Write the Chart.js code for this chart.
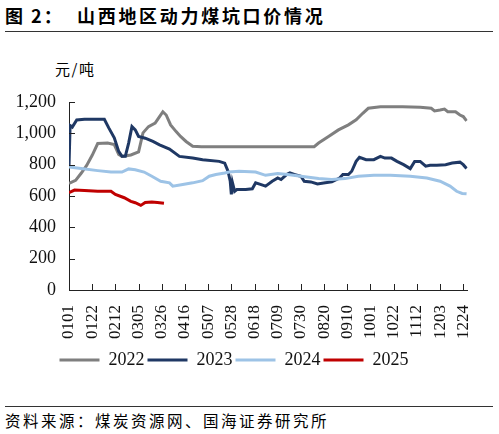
<!DOCTYPE html>
<html>
<head>
<meta charset="utf-8">
<script src="https://cdn.jsdelivr.net/npm/chart.js@4/dist/chart.umd.min.js"></script>
<style>
  html, body { margin: 0; padding: 0; background: #fff; }
  body { width: 499px; height: 434px; position: relative; overflow: hidden; }
  .cn { font-family: "Noto Sans CJK SC", sans-serif; color: #000; position: absolute; white-space: nowrap; }
  #title1 { left: 5px; top: 3px; font-size: 18px; font-weight: bold; line-height: 24px; letter-spacing: 2px; }
  #title2 { left: 77px; top: 3px; font-size: 18px; font-weight: bold; line-height: 24px; letter-spacing: 2.7px; }
  #unit { left: 55px; top: 59px; font-size: 15px; line-height: 20px; letter-spacing: 1.5px; }
  #source { left: 5px; top: 410px; font-size: 15.5px; line-height: 20px; letter-spacing: 2.5px; }
  .rule { position: absolute; left: 5px; width: 488px; height: 0; border-top: 1.3px solid #333; }
  #chartBox { position: absolute; left: 0; top: 40px; width: 499px; height: 364px; }
</style>
</head>
<body>
<div class="cn" id="title1">图 2：</div>
<div class="cn" id="title2">山西地区动力煤坑口价情况</div>
<div class="rule" style="top:31px"></div>
<div class="cn" id="unit">元/吨</div>
<div id="chartBox"><canvas id="myChart" width="499" height="364"></canvas></div>
<div class="rule" style="top:406px"></div>
<div class="cn" id="source">资料来源：煤炭资源网、国海证券研究所</div>

<script>
// x ticks every 21 days from Jan 1
const tickLabels = ['0101', '0122', '0212', '0305', '0326', '0416', '0507', '0528', '0618',
    '0709', '0730', '0820', '0910', '1001', '1022', '1112', '1203', '1224'];
const yearNames = ['2022', '2023', '2024', '2025'];

// day of year (0 = Jan 1) and price, yuan/ton
const days2022 = [0, 6, 11, 16, 21, 26, 35, 41, 45, 48, 56, 63, 67, 72, 78, 82, 85, 88, 92, 97, 101, 106, 112, 120,
    222, 226, 235, 244, 253, 260, 266, 271, 282, 302, 318, 328, 331, 336, 340, 343, 350, 354, 357, 360];
const price2022 = [680, 700, 745, 795, 860, 935, 938, 928, 865, 853, 862, 882, 1003, 1043, 1065, 1107, 1138, 1117, 1054, 1011, 980, 948, 918, 915,
    915, 938, 980, 1022, 1054, 1086, 1128, 1160, 1170, 1170, 1166, 1160, 1143, 1149, 1155, 1138, 1138, 1117, 1107, 1079];

const days2023 = [0, 1, 3, 7, 14, 32, 36, 41, 45, 48, 51, 54, 57, 60, 63, 69, 76, 82, 91, 100, 112, 121, 136, 141, 144, 146, 147, 148, 150, 152,
    160, 166, 169, 174, 178, 184, 189, 192, 197, 200, 204, 210, 213, 219, 225, 232, 238, 245, 248, 253, 256, 260, 263, 269, 276,
    282, 286, 292, 297, 303, 309, 313, 318, 323, 327, 333, 341, 347, 354, 357, 360];
const price2023 = [790, 1050, 1040, 1085, 1090, 1090, 1035, 971, 885, 853, 853, 938, 1043, 1022, 980, 969, 948, 927, 900, 853, 842, 832, 821, 810, 758, 694, 610, 686, 630, 641,
    641, 646, 684, 673, 663, 694, 715, 705, 737, 747, 737, 726, 694, 690, 677, 684, 690, 715, 737, 737, 758, 821, 847, 832, 832,
    853, 842, 842, 821, 800, 775, 821, 821, 790, 796, 796, 800, 810, 816, 800, 775];

const days2024 = [0, 11, 26, 38, 48, 54, 60, 68, 75, 83, 91, 94, 103, 112, 121, 127, 133, 141, 145, 154, 169, 178, 189, 198,
    210, 226, 238, 250, 262, 276, 291, 309, 324, 336, 345, 351, 356, 360];
const price2024 = [785, 775, 762, 753, 753, 773, 768, 753, 726, 694, 684, 663, 673, 684, 698, 726, 737, 747, 753, 758, 753, 732, 743, 737,
    726, 711, 705, 711, 726, 732, 732, 726, 715, 694, 663, 630, 616, 614];

const days2025 = [0, 5, 14, 26, 38, 42, 50, 56, 60, 65, 69, 75, 80, 86];
const price2025 = [622, 638, 635, 630, 630, 610, 589, 566, 557, 540, 558, 561, 558, 553];

const lineColors = ['#7f7f7f', '#1f3864', '#9dc3e6', '#c00000'];

document.addEventListener("DOMContentLoaded", function () {
    Chart.defaults.font.family = "'Liberation Serif', 'Times New Roman', serif";
    Chart.defaults.color = '#111';

    const ctx = document.getElementById('myChart').getContext('2d');

    const toPoints = (days, vals) => days.map((d, i) => ({ x: d, y: vals[i] }));
    const series = [
        toPoints(days2022, price2022),
        toPoints(days2023, price2023),
        toPoints(days2024, price2024),
        toPoints(days2025, price2025)
    ];

    // small tick marks pointing into the plot, like the original
    const innerTicks = {
        id: 'innerTicks',
        afterDraw(chart) {
            const c = chart.ctx;
            const x = chart.scales.x, y = chart.scales.y;
            c.save();
            c.strokeStyle = '#222';
            c.lineWidth = 1;
            c.beginPath();
            x.ticks.forEach(t => {
                const px = Math.round(x.getPixelForValue(t.value)) + 0.5;
                c.moveTo(px, y.bottom);
                c.lineTo(px, y.bottom - 6);
            });
            y.ticks.forEach(t => {
                const py = Math.round(y.getPixelForValue(t.value)) + 0.5;
                c.moveTo(x.left, py);
                c.lineTo(x.left + 6, py);
            });
            c.stroke();
            c.restore();
        }
    };

    const data = {
        datasets: yearNames.map((name, i) => ({
            label: name,
            data: series[i],
            borderColor: lineColors[i],
            backgroundColor: lineColors[i],
            borderWidth: 3,
            pointRadius: 0,
            tension: 0,
            order: 3 - i
        }))
    };

    const options = {
        responsive: false,
        animation: false,
        layout: { padding: { top: 62, right: 31, left: 0, bottom: 25 } },
        scales: {
            x: {
                type: 'linear',
                min: 0,
                max: 361,
                afterFit: s => { s.height = 58; },
                border: { display: true, color: '#222', width: 1 },
                grid: { display: false, drawTicks: false },
                ticks: {
                    stepSize: 21,
                    includeBounds: false,
                    autoSkip: false,
                    minRotation: 90,
                    maxRotation: 90,
                    padding: 15,
                    font: { size: 17 },
                    callback: v => tickLabels[Math.round(v / 21)]
                }
            },
            y: {
                min: 0,
                max: 1200,
                afterFit: s => { s.width = 69; },
                border: { display: true, color: '#222', width: 1 },
                grid: { display: false, drawTicks: false },
                ticks: {
                    stepSize: 200,
                    padding: 13,
                    font: { size: 18 },
                    callback: v => v.toLocaleString('en-US')
                }
            }
        },
        plugins: {
            tooltip: { enabled: false },
            legend: {
                position: 'bottom',
                labels: {
                    boxWidth: 40,
                    boxHeight: 3,
                    padding: 3,
                    color: '#111',
                    font: { size: 18 },
                    sort: (a, b) => a.datasetIndex - b.datasetIndex,
                    generateLabels(chart) {
                        return Chart.defaults.plugins.legend.labels.generateLabels(chart)
                            .map(l => Object.assign(l, { lineWidth: 0, fillStyle: l.strokeStyle }));
                    }
                }
            }
        }
    };

    new Chart(ctx, { type: 'line', data: data, options: options, plugins: [innerTicks] });
});
</script>
</body>
</html>
